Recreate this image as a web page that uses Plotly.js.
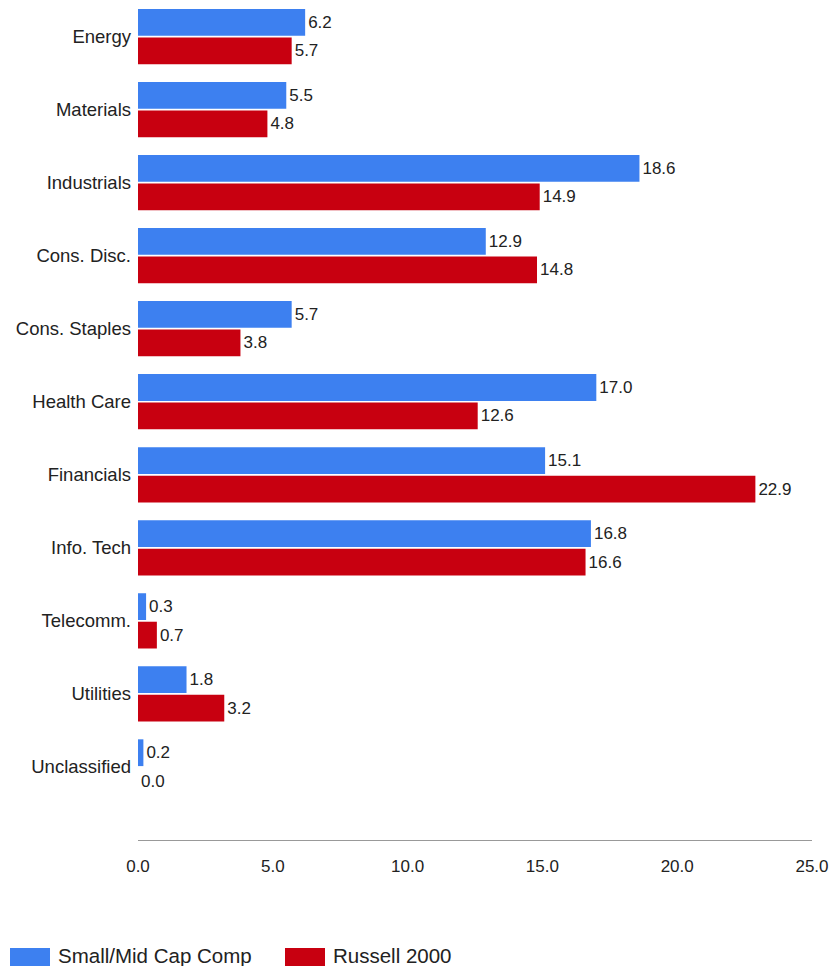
<!DOCTYPE html>
<html>
<head>
<meta charset="utf-8">
<script src="https://cdn.plot.ly/plotly-3.0.1.min.js"></script>
<style>html,body{margin:0;padding:0;background:#fff;}#chart{width:833px;height:966px;}</style>
</head>
<body>
<div id="chart"></div>
<script>
const categories = ["Energy","Materials","Industrials","Cons. Disc.","Cons. Staples","Health Care","Financials","Info. Tech","Telecomm.","Utilities","Unclassified"];
const smallMidCap = [6.2,5.5,18.6,12.9,5.7,17.0,15.1,16.8,0.3,1.8,0.2];
const russell2000 = [5.7,4.8,14.9,14.8,3.8,12.6,22.9,16.6,0.7,3.2,0.0];
const seriesNames = ["Small/Mid Cap Comp","Russell 2000"];
const xTicks = [0,5,10,15,20,25];

const W = 833, H = 966;
const M = {l:138, r:21, t:0, b:126};
const plotW = W - M.l - M.r, plotH = H - M.t - M.b;
const px = x => (x - M.l) / plotW;
const py = y => (H - M.b - y) / plotH;

const BLUE = "#3d80f0", RED = "#c80010";
const FAM = "Liberation Sans, Arial, sans-serif";
const labelFont = {family:FAM, size:17, color:"#222"};

const traces = [
  {type:"bar", orientation:"h", name:seriesNames[0], y:categories, x:smallMidCap,
   marker:{color:BLUE}, texttemplate:"%{x:.1f}", textposition:"outside", textfont:labelFont,
   cliponaxis:false, hoverinfo:"skip"},
  {type:"bar", orientation:"h", name:seriesNames[1], y:categories, x:russell2000,
   marker:{color:RED}, texttemplate:"%{x:.1f}", textposition:"outside", textfont:labelFont,
   cliponaxis:false, hoverinfo:"skip"}
];

const legendItems = [
  {name:seriesNames[0], color:BLUE, x0:10},
  {name:seriesNames[1], color:RED, x0:285}
];
const shapes = legendItems.map(it => ({type:"rect", xref:"paper", yref:"paper",
  x0:px(it.x0), x1:px(it.x0+40), y0:py(966), y1:py(948), fillcolor:it.color, line:{width:0}}));
const annotations = legendItems.map(it => ({xref:"paper", yref:"paper", x:px(it.x0+46), y:py(955),
  xanchor:"left", yanchor:"middle", text:it.name, showarrow:false,
  font:{family:FAM, size:20.5, color:"#222"}}));

const layout = {
  width:W, height:H, margin:M, paper_bgcolor:"#fff", plot_bgcolor:"#fff",
  showlegend:false, barmode:"group", bargap:0.22, bargroupgap:0.06,
  font:{family:FAM, color:"#222"},
  xaxis:{range:[0,25], tickvals:xTicks, tickformat:".1f", showgrid:false, zeroline:false,
    showline:true, linecolor:"#999", linewidth:1, ticks:"", ticklabelstandoff:11,
    tickfont:{family:FAM, size:17, color:"#222"}},
  yaxis:{type:"category", range:[11, -0.5], showgrid:false, zeroline:false, showline:false,
    ticks:"", ticklabelstandoff:6,
    tickfont:{family:FAM, size:18.5, color:"#222"}},
  shapes:shapes, annotations:annotations
};

Plotly.newPlot("chart", traces, layout, {staticPlot:true, displayModeBar:false});
</script>
</body>
</html>
